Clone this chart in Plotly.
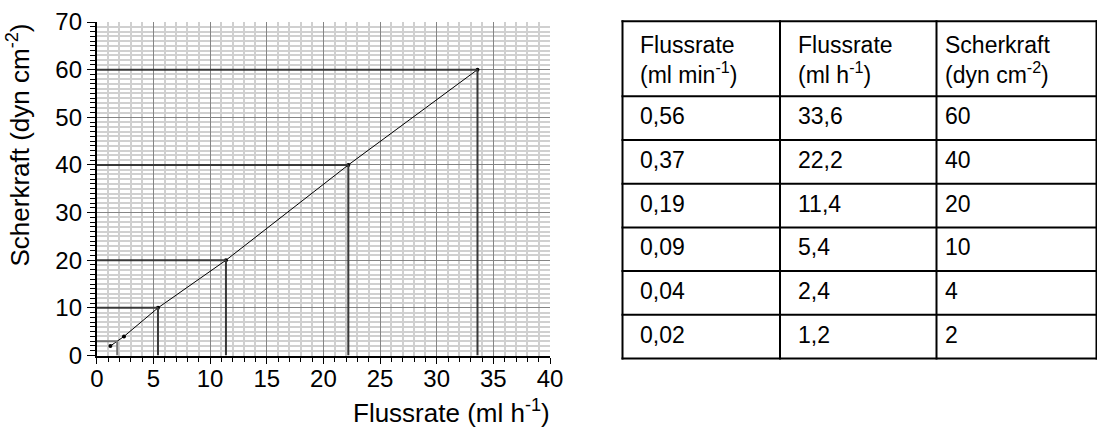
import plotly.graph_objects as go

# ---- data ----
flow_min_labels = ["0,56", "0,37", "0,19", "0,09", "0,04", "0,02"]
flow_h = [33.6, 22.2, 11.4, 5.4, 2.4, 1.2]
shear = [60, 40, 20, 10, 4, 2]
header_labels = [
    "Flussrate<br>(ml min<sup>-1</sup>)",
    "Flussrate<br>(ml h<sup>-1</sup>)",
    "Scherkraft<br>(dyn cm<sup>-2</sup>)",
]
x_title = "Flussrate (ml h<sup>-1</sup>)"
y_title = "Scherkraft (dyn cm<sup>-2</sup>)"
# small reading guide drawn for the two lowest points
low_guide_x = 1.8
low_guide_y = 3

# ---- layout / style constants (pixels) ----
W, H = 1097, 428
FONT = "Liberation Sans, Arial, Helvetica, sans-serif"
PLOT_L, PLOT_R, PLOT_T, PLOT_B = 96.8, 550.0, 22.0, 355.5
TBL_L, TBL_T = 622.5, 21.3
COL_W = [157.5, 156.5, 160.0]
COL_PAD = [15.5, 16.0, 6.0]
HEAD_H, ROW_H = 75.0, 43.7
TBL_FONT = 23


def fmt(v):
    return ("%g" % v).replace(".", ",")


def px(x):
    return x / W


def py(y):
    return (H - y) / H


pts = sorted(zip(flow_h, shear))
xs = [p[0] for p in pts]
ys = [p[1] for p in pts]

fig = go.Figure()
fig.add_trace(go.Scatter(
    x=xs, y=ys, mode="lines+markers",
    line=dict(color="black", width=1),
    marker=dict(color="black", size=4),
    showlegend=False, hoverinfo="skip",
))

shapes = []
for x, y in zip(flow_h, shear):
    if y >= 10:
        shapes.append(dict(type="line", xref="x", yref="y", x0=0, x1=x, y0=y, y1=y,
                           line=dict(color="#3a3a3a", width=2)))
        shapes.append(dict(type="line", xref="x", yref="y", x0=x, x1=x, y0=0, y1=y,
                           line=dict(color="#3a3a3a", width=2)))
shapes.append(dict(type="line", xref="x", yref="y", x0=0, x1=low_guide_x,
                   y0=low_guide_y, y1=low_guide_y, line=dict(color="#777777", width=2)))
shapes.append(dict(type="line", xref="x", yref="y", x0=low_guide_x, x1=low_guide_x,
                   y0=0, y1=low_guide_y, line=dict(color="#777777", width=2)))

# ---- table built from the data arrays ----
columns = [flow_min_labels, [fmt(v) for v in flow_h], [fmt(v) for v in shear]]
n_rows = len(flow_min_labels)
col_edges = [TBL_L]
for w in COL_W:
    col_edges.append(col_edges[-1] + w)
row_edges = [TBL_T, TBL_T + HEAD_H]
for _ in range(n_rows):
    row_edges.append(row_edges[-1] + ROW_H)

border = dict(color="black", width=2)
for xe in col_edges:
    shapes.append(dict(type="line", xref="paper", yref="paper", x0=px(xe), x1=px(xe),
                       y0=py(row_edges[0] - 1), y1=py(row_edges[-1] + 1), line=border))
for ye in row_edges:
    shapes.append(dict(type="line", xref="paper", yref="paper", x0=px(col_edges[0] - 1),
                       x1=px(col_edges[-1] + 1), y0=py(ye), y1=py(ye), line=border))

annotations = []
tfont = dict(family=FONT, size=TBL_FONT, color="black")
for c, label in enumerate(header_labels):
    annotations.append(dict(
        text=label, xref="paper", yref="paper", showarrow=False, align="left",
        x=px(col_edges[c] + COL_PAD[c]), xanchor="left",
        y=py((row_edges[0] + row_edges[1]) / 2 + 1), yanchor="middle", font=tfont))
for c, col in enumerate(columns):
    for r, val in enumerate(col):
        annotations.append(dict(
            text=val, xref="paper", yref="paper", showarrow=False, align="left",
            x=px(col_edges[c] + COL_PAD[c]), xanchor="left",
            y=py((row_edges[r + 1] + row_edges[r + 2]) / 2 - 2), yanchor="middle", font=tfont))

# axis titles
annotations.append(dict(text=x_title, xref="x", x=40, xanchor="right",
                        yref="paper", y=py(427.5), yanchor="bottom", showarrow=False,
                        borderpad=0, borderwidth=0,
                        font=dict(family=FONT, size=26, color="black")))
annotations.append(dict(text=y_title, textangle=-90, xref="paper", x=px(19),
                        xanchor="center", yref="y", y=70, yanchor="top", showarrow=False,
                        font=dict(family=FONT, size=26, color="black")))

axis_common = dict(
    showline=True, linecolor="black", linewidth=2,
    ticks="outside", tickcolor="black", tickwidth=1,
    showgrid=True, gridcolor="#858585", gridwidth=1,
    zeroline=False, fixedrange=True, automargin=False,
    tickfont=dict(family=FONT, size=24, color="black"),
)

fig.update_layout(
    width=W, height=H,
    margin=dict(l=0, r=0, t=0, b=0, autoexpand=False),
    paper_bgcolor="white", plot_bgcolor="white",
    font=dict(family=FONT, color="black"),
    xaxis=dict(domain=[px(PLOT_L), px(PLOT_R)], range=[0, 40], dtick=5, tick0=0, ticklen=6,
               ticklabelstandoff=-5,
               minor=dict(dtick=1, showgrid=True, gridcolor="#d0d0d0", gridwidth=1.5,
                          ticks="outside", ticklen=4, tickcolor="black"),
               anchor="y", **axis_common),
    yaxis=dict(domain=[py(PLOT_B), py(PLOT_T)], range=[0, 70], dtick=10, tick0=0, ticklen=8,
               minor=dict(dtick=1, showgrid=True, gridcolor="#d0d0d0", gridwidth=1.5,
                          ticks="outside", ticklen=5, tickcolor="black"),
               anchor="x", **axis_common),
    shapes=shapes,
    annotations=annotations,
)

fig.write_html("out.html", config={"displayModeBar": False},
               post_script="document.body.style.margin='0';document.body.style.padding='0';")
